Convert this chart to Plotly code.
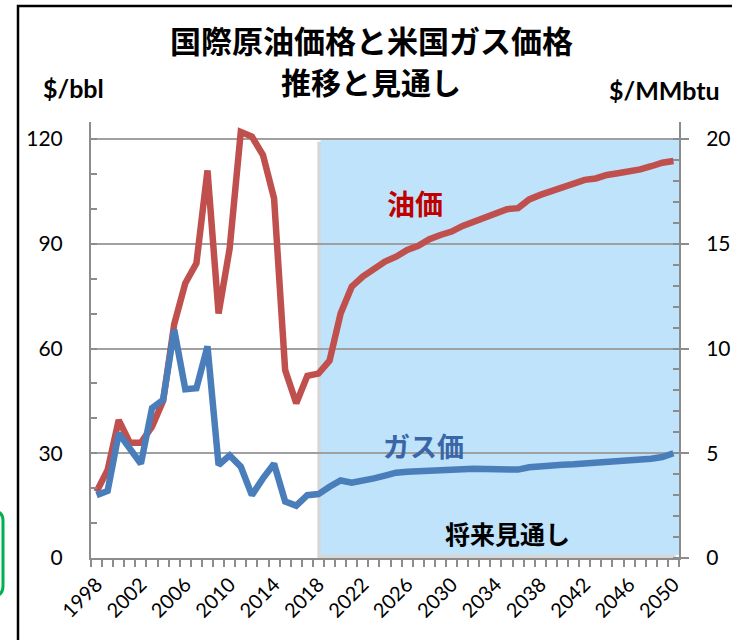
import plotly.graph_objects as go

# ---- data ----
years = list(range(1998, 2051))
oil_price = [19.0, 25.2, 39.5, 33.0, 33.0, 37.6, 45.0, 67.0, 78.7, 84.4,
             111.0, 70.0, 88.7, 122.0, 120.7, 115.4, 103.0, 53.8, 44.3, 52.2,
             52.8, 56.5,
             70.0, 77.7, 80.6, 83.0, 84.9, 86.3, 88.2, 89.4, 91.3, 92.5, 93.5,
             95.1, 96.3, 97.6, 98.9, 99.9, 100.2, 102.7, 104.0, 105.1, 106.3,
             107.5, 108.3, 108.7, 109.7, 110.2, 110.6, 111.3, 112.2, 113.2, 113.7]
gas_price = [3.0, 3.2, 5.95, 5.2, 4.5, 7.15, 7.55, 10.9, 8.05, 8.1,
             10.1, 4.44, 4.9, 4.36, 3.0, 3.8, 4.5, 2.7, 2.5, 3.0,
             3.05, 3.4,
             3.7, 3.6, 3.67, 3.8, 3.93, 4.07, 4.12, 4.15, 4.19, 4.2,
             4.24, 4.25, 4.26, 4.25, 4.23, 4.22, 4.22, 4.33, 4.39, 4.43, 4.45,
             4.47, 4.5, 4.53, 4.58, 4.61, 4.64, 4.68, 4.74, 4.82, 5.0]
x_tick_years = list(range(1998, 2051, 4))
left_ticks = [0, 30, 60, 90, 120]
right_ticks = [0, 5, 10, 15, 20]
forecast_start = 2018.2

title_line1 = "国際原油価格と米国ガス価格"
title_line2 = "推移と見通し"
left_unit = "$/bbl"
right_unit = "$/MMbtu"
oil_label = "油価"
gas_label = "ガス価"
forecast_label = "将来見通し"

# ---- layout geometry (pixels) ----
W, H = 732, 640
L, R, T, B = 91, 679, 122, 558          # plot area
PW, PH = R - L, B - T


def px(x):
    return (x - L) / PW


def py(y):
    return (B - y) / PH


CJK = "Noto Sans CJK JP"
LAT = "Lato"

fig = go.Figure()
fig.add_trace(go.Scatter(x=years, y=oil_price, mode="lines",
                         line=dict(color="#C0504D", width=6.5),
                         yaxis="y", showlegend=False, hoverinfo="skip"))
fig.add_trace(go.Scatter(x=years, y=gas_price, mode="lines",
                         line=dict(color="#4A7EBB", width=6.5),
                         yaxis="y2", showlegend=False, hoverinfo="skip"))

shapes = []
# forecast shading with soft shadow
shapes.append(dict(type="rect", xref="x", yref="y", layer="below",
                   x0=forecast_start - 0.3, x1=2050.5 - 0.3, y0=-0.2, y1=119.2,
                   fillcolor="rgba(140,140,140,0.35)", line=dict(width=0)))
shapes.append(dict(type="rect", xref="x", yref="y", layer="below",
                   x0=forecast_start, x1=2050.5, y0=0.9, y1=120,
                   fillcolor="#BEE3FA", line=dict(width=0)))
# outer frame
shapes.append(dict(type="rect", xref="paper", yref="paper",
                   x0=px(18), x1=px(780), y0=py(680), y1=py(6),
                   line=dict(color="black", width=2.5), fillcolor="rgba(0,0,0,0)"))
# green rounded box partially visible on the left edge
gx0, gx1, gy0, gy1, r = -30, 3, 511, 596, 10
path = (f"M {px(gx0)} {py(gy0)} L {px(gx1 - r)} {py(gy0)} "
        f"Q {px(gx1)} {py(gy0)} {px(gx1)} {py(gy0 + r)} "
        f"L {px(gx1)} {py(gy1 - r)} "
        f"Q {px(gx1)} {py(gy1)} {px(gx1 - r)} {py(gy1)} "
        f"L {px(gx0)} {py(gy1)}")
shapes.append(dict(type="path", xref="paper", yref="paper", path=path,
                   line=dict(color="#00B050", width=3)))

annotations = []


def ann(text, x, y, size, color="black", family=CJK, bold=True):
    annotations.append(dict(text=f"<b>{text}</b>" if bold else text,
                            x=px(x), y=py(y), xref="paper", yref="paper",
                            xanchor="center", yanchor="middle", showarrow=False,
                            font=dict(size=size, color=color, family=family)))


ann(title_line1, 371, 39.5, 31)
ann(title_line2, 371, 80.5, 30)
ann(left_unit, 73, 88, 25, family=LAT)
ann(right_unit, 664, 90, 25, family=LAT)
ann(oil_label, 415, 203, 28, color="#C00000")
ann(gas_label, 423, 445, 27, color="#3A66A8")
ann(forecast_label, 507, 533, 25)

fig.update_layout(
    width=W, height=H,
    margin=dict(l=L, r=W - R, t=T, b=H - B, autoexpand=False),
    paper_bgcolor="white", plot_bgcolor="white",
    shapes=shapes, annotations=annotations,
    xaxis=dict(range=[1997.5, 2050.5], tickvals=x_tick_years,
               ticktext=[str(v) for v in x_tick_years], tickangle=-45,
               ticks="outside", ticklen=5, tickcolor="rgba(0,0,0,0)",
               showgrid=False, zeroline=False,
               showline=True, linecolor="#8C8C8C", linewidth=2,
               tickfont=dict(family=LAT, size=20, color="black"),
               minor=dict(tick0=1997.5, dtick=1, ticks="outside", ticklen=7,
                          tickcolor="#8C8C8C", tickwidth=1.5, showgrid=False)),
    yaxis=dict(range=[0, 120 * PH / (B - 139)], tickvals=left_ticks,
               showgrid=True, gridcolor="#A0A0A0", gridwidth=1.8,
               zeroline=False, showline=True, linecolor="#8C8C8C", linewidth=2,
               ticks="inside", ticklen=6, tickcolor="#8C8C8C", tickwidth=1.5,
               ticklabelstandoff=22,
               tickfont=dict(family=LAT, size=21, color="black"),
               minor=dict(dtick=10, ticks="inside", ticklen=6,
                          tickcolor="#8C8C8C", tickwidth=1.5, showgrid=False)),
    yaxis2=dict(range=[0, 20 * PH / (B - 139)], tickvals=right_ticks,
                overlaying="y", side="right", showgrid=False, zeroline=False,
                showline=True, linecolor="#8C8C8C", linewidth=2,
                ticks="outside", ticklen=8, tickcolor="#8C8C8C", tickwidth=1.5,
                ticklabelstandoff=13,
                tickfont=dict(family=LAT, size=21, color="black"),
                minor=dict(dtick=1, ticks="inside", ticklen=6,
                           tickcolor="#8C8C8C", tickwidth=1.5, showgrid=False)),
)

# remove the default 8px body margin so the 732x640 figure fills the window exactly
fig.write_html(
    "out.html",
    config={"displayModeBar": False},
    post_script="document.body.style.margin='0';document.body.style.overflow='hidden';",
)
